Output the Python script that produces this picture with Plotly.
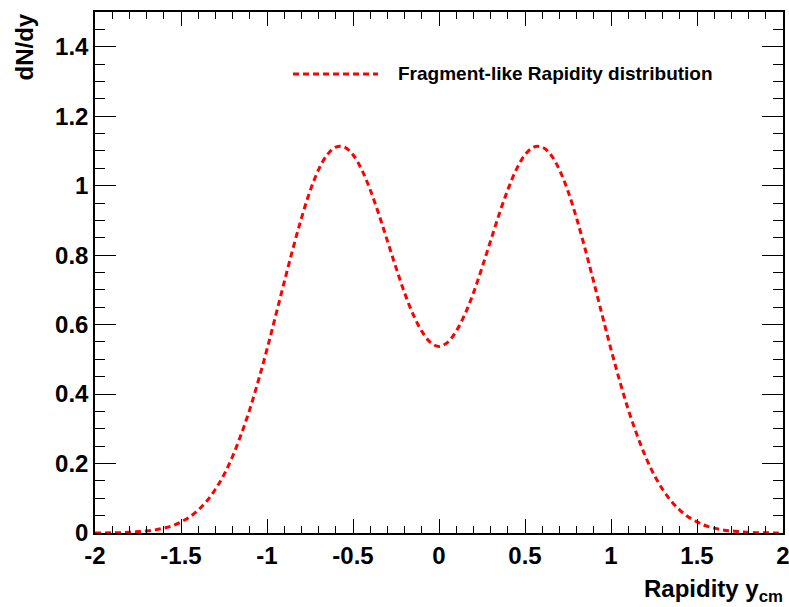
import plotly.graph_objects as go

# Rapidity grid and dN/dy values of the fragment-like distribution
rapidity = [round(-2.0 + 0.05 * i, 2) for i in range(81)]
dndy_left = [0.000, 0.000, 0.001, 0.001, 0.002, 0.004, 0.006, 0.009, 0.014, 0.021,
             0.032, 0.046, 0.066, 0.092, 0.126, 0.168, 0.221, 0.284, 0.356, 0.439,
             0.529, 0.625, 0.722, 0.817, 0.906, 0.984, 1.046, 1.089, 1.111, 1.111,
             1.089, 1.047, 0.988, 0.918, 0.841, 0.764, 0.691, 0.629, 0.581, 0.549]
dndy_center = [0.537]
dndy = dndy_left + dndy_center + dndy_left[::-1]

x_range = [-2, 2]
y_range = [0, 1.5]
x_tickvals = [-2, -1.5, -1, -0.5, 0, 0.5, 1, 1.5, 2]
x_ticktext = ["-2", "-1.5", "-1", "-0.5", "0", "0.5", "1", "1.5", "2"]
y_tickvals = [0, 0.2, 0.4, 0.6, 0.8, 1.0, 1.2, 1.4]
y_ticktext = ["0", "0.2", "0.4", "0.6", "0.8", "1", "1.2", "1.4"]
legend_label = "Fragment-like Rapidity distribution"

RED = "#ff0000"
FONT = "Liberation Sans"

W, H = 789, 607
L, R, T, B = 95, 6, 12, 74
pw, ph = W - L - R, H - T - B


def px_x(p):
    return (p - L) / pw


def px_y(p):
    return (H - B - p) / ph


fig = go.Figure()
fig.add_trace(go.Scatter(
    x=rapidity, y=dndy, mode="lines",
    line=dict(color=RED, width=3, dash="6px,4px", shape="spline"),
    name=legend_label, showlegend=False, hoverinfo="skip",
))

axis_common = dict(
    showgrid=False, zeroline=False, automargin=False, ticklabeloverflow="allow",
    showline=True, linecolor="black", linewidth=1.5, mirror="allticks",
    ticks="inside", tickcolor="black", tickwidth=1,
    tickfont=dict(family=FONT, size=24, color="black", weight="bold"),
)

fig.update_xaxes(
    range=x_range, tickvals=x_tickvals, ticktext=x_ticktext, ticklen=14,
    minor=dict(dtick=0.1, tick0=-2, ticklen=7, ticks="inside",
               tickcolor="black", tickwidth=1),
    **axis_common,
)
fig.update_yaxes(
    range=y_range, tickvals=y_tickvals, ticktext=y_ticktext, ticklen=21,
    minor=dict(dtick=0.05, tick0=0, ticklen=10, ticks="inside",
               tickcolor="black", tickwidth=1),
    **axis_common,
)

# legend entry: dashed sample and label
fig.add_shape(type="line", xref="paper", yref="paper",
              x0=px_x(293), x1=px_x(378), y0=px_y(74), y1=px_y(74),
              line=dict(color=RED, width=3, dash="6px,4px"))
fig.add_annotation(xref="paper", yref="paper", x=px_x(396), y=px_y(74),
                   xanchor="left", yanchor="middle", showarrow=False,
                   text=legend_label,
                   font=dict(family=FONT, size=19, color="black", weight="bold"))

# axis titles
fig.add_annotation(xref="paper", yref="paper", x=px_x(785), y=px_y(608),
                   xanchor="right", yanchor="bottom", showarrow=False,
                   text="Rapidity y<sub>cm</sub>",
                   font=dict(family=FONT, size=24, color="black", weight="bold"))
fig.add_annotation(xref="paper", yref="paper", x=px_x(24), y=px_y(12),
                   xanchor="center", yanchor="top", showarrow=False, textangle=-90,
                   text="dN/dy",
                   font=dict(family=FONT, size=24, color="black", weight="bold"))

fig.update_layout(
    width=W, height=H,
    margin=dict(l=L, r=R, t=T, b=B),
    paper_bgcolor="white", plot_bgcolor="white",
    showlegend=False,
)

fig.write_html("out.html")
